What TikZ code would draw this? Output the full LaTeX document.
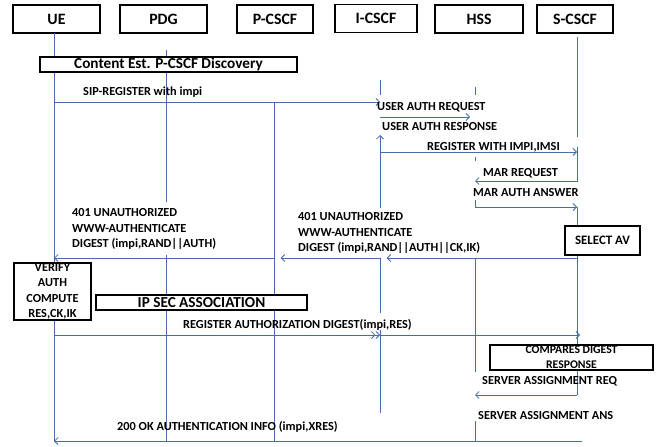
\documentclass[tikz,border=0pt]{standalone}
\usepackage{fontspec}
\setmainfont{Carlito}
\usetikzlibrary{arrows.meta}
\definecolor{lifeblue}{RGB}{72,108,168}
\begin{document}
\begin{tikzpicture}[x=0.03cm,y=-0.03cm,
    head/.style={draw,line width=1.6pt,minimum width={#1*0.03cm},minimum height=0.84cm,
      inner sep=0pt,font=\fontsize{13.5}{15}\selectfont\bfseries},
    box/.style={draw,fill=white,line width=1.6pt,inner sep=0pt,align=center},
    life/.style={lifeblue,line width=0.7pt},
    msg/.style={lifeblue,line width=0.7pt,-{Straight Barb[length=3pt,width=6pt]}},
    msgtwo/.style={lifeblue,line width=0.7pt,-{Straight Barb[length=3pt,width=6pt]Straight Barb[length=3pt,width=6pt]}},
    lbl/.style={anchor=west,inner sep=0pt,align=left,font=\fontsize{10.5}{13.6}\selectfont\bfseries}]
  \useasboundingbox (0,0) rectangle (667,447);
  % Cabeceras
  \node[head=87] (ue) at (56.5,19) {UE};
  \node[head=87] (pdg) at (163.5,19) {PDG};
  \node[head=76] (pcscf) at (275,19) {P-CSCF};
  \node[head=82] (icscf) at (376,18.5) {I-CSCF};
  \node[head=88] (hss) at (479,19) {HSS};
  \node[head=76] (scscf) at (575,19) {S-CSCF};
  % Lineas de vida
  \coordinate (ueL) at (54,0);
  \coordinate (pdgL) at (166,0);
  \coordinate (pcL) at (274,0);
  \coordinate (icL) at (380,0);
  \coordinate (hssL) at (475,0);
  \coordinate (scL) at (577,0);
  \draw[life] (ueL |- 0,33) -- (ueL |- 0,442);
  \draw[life] (pdgL |- 0,50) -- (pdgL |- 0,202);
  \draw[life] (pdgL |- 0,255) -- (pdgL |- 0,442);
  \draw[life] (pcL |- 0,103) -- (pcL |- 0,442);
  \draw[life] (icL |- 0,80) -- (icL |- 0,95);
  \draw[life] (icL |- 0,258) -- (icL |- 0,313);
  \draw[life] (icL |- 0,330) -- (icL |- 0,413);
  \draw[life] (hssL |- 0,87) -- (hssL |- 0,95);
  \draw[life] (hssL |- 0,157) -- (hssL |- 0,161);
  \draw[life] (hssL |- 0,258) -- (hssL |- 0,372);
  \draw[life] (hssL |- 0,421) -- (hssL |- 0,441);
  \draw[life] (scL |- 0,37) -- (scL |- 0,137);
  \draw[life] (scL |- 0,147) -- (scL |- 0,182);
  \draw[life] (scL |- 0,207) -- (scL |- 0,395);
  % Mensajes
  \coordinate (sip) at (0,102);
  \coordinate (uareq) at (0,117);
  \coordinate (regimpi) at (0,152);
  \coordinate (marreq) at (0,181);
  \coordinate (marans) at (0,207);
  \coordinate (unauth) at (0,258);
  \coordinate (regauth) at (0,335);
  \coordinate (sareq) at (0,395);
  \coordinate (ok) at (0,441);
  \draw[msg] (ueL |- sip) -- (icL |- sip);
  \draw[msg,shorten >=0.15cm] (icL |- uareq) -- (hssL |- uareq);
  \draw[msg] (icL |- 0,208) -- (icL |- 0,135);
  \draw[msg] (icL |- regimpi) -- (scL |- regimpi);
  \draw[msg] (scL |- marreq) -- (hssL |- marreq);
  \draw[msg] (hssL |- 0,200) |- (scL |- marans);
  \draw[msg,shorten >=0.2cm] (scL |- unauth) -- (icL |- unauth);
  \draw[msg,shorten >=0.2cm] (icL |- unauth) -- (pcL |- unauth);
  \draw[msg] (pcL |- unauth) -- (ueL |- unauth);
  \draw[msgtwo] (ueL |- regauth) -- (icL |- regauth);
  \draw[msg] (icL |- regauth) -- ([xshift=0.09cm]scL |- regauth);
  \draw[msg] (scL |- sareq) -- (hssL |- sareq);
  \draw[msg] ([xshift=0.15cm]scL |- ok) -- (ueL |- ok);
  % Cajas
  \node[box,minimum width=7.71cm,minimum height=0.45cm,font=\fontsize{13}{15}\selectfont\bfseries] (disc) at (168.5,64.5) {Content Est. P-CSCF Discovery};
  \node[box,minimum width=2.25cm,minimum height=0.87cm,font=\fontsize{11}{13}\selectfont\bfseries] (selav) at (602.5,240.5) {SELECT AV};
  \node[box,minimum width=2.31cm,minimum height=1.71cm,font=\fontsize{10.5}{13.2}\selectfont\bfseries] (verify) at (52.5,291.5) {VERIFY\\AUTH\\COMPUTE\\RES,CK,IK};
  \node[box,minimum width=6.33cm,minimum height=0.45cm,font=\fontsize{13}{15}\selectfont\bfseries] (ipsec) at (201.5,302.5) {IP SEC ASSOCIATION};
  \node[box,minimum width=4.89cm,minimum height=0.75cm,font=\fontsize{10}{12.8}\selectfont\bfseries] (compares) at (571.5,357.5) {COMPARES DIGEST\\RESPONSE};
  % Etiquetas
  \node[lbl] (siptxt) at (83,92) {SIP-REGISTER with impi};
  \node[lbl] (uareqtxt) at (377,107) {USER AUTH REQUEST};
  \node[lbl] (uaresptxt) at (382,127) {USER AUTH RESPONSE};
  \node[lbl] (regimpitxt) at (427,147) {REGISTER WITH IMPI,IMSI};
  \node[lbl] (marreqtxt) at (483,173) {MAR REQUEST};
  \node[lbl] (maranstxt) at (473,193) {MAR AUTH ANSWER};
  \node[lbl] (unauthue) at (72,229) {401 UNAUTHORIZED\\WWW-AUTHENTICATE\\DIGEST (impi,RAND||AUTH)};
  \node[lbl] (unauthpc) at (298,233) {401 UNAUTHORIZED\\WWW-AUTHENTICATE\\DIGEST (impi,RAND||AUTH||CK,IK)};
  \node[lbl] (regauthtxt) at (183,325) {REGISTER AUTHORIZATION DIGEST(impi,RES)};
  \node[lbl] (sareqtxt) at (482,381) {SERVER ASSIGNMENT REQ};
  \node[lbl] (saanstxt) at (478,416) {SERVER ASSIGNMENT ANS};
  \node[lbl] (oktxt) at (117,427) {200 OK AUTHENTICATION INFO (impi,XRES)};
\end{tikzpicture}
\end{document}
